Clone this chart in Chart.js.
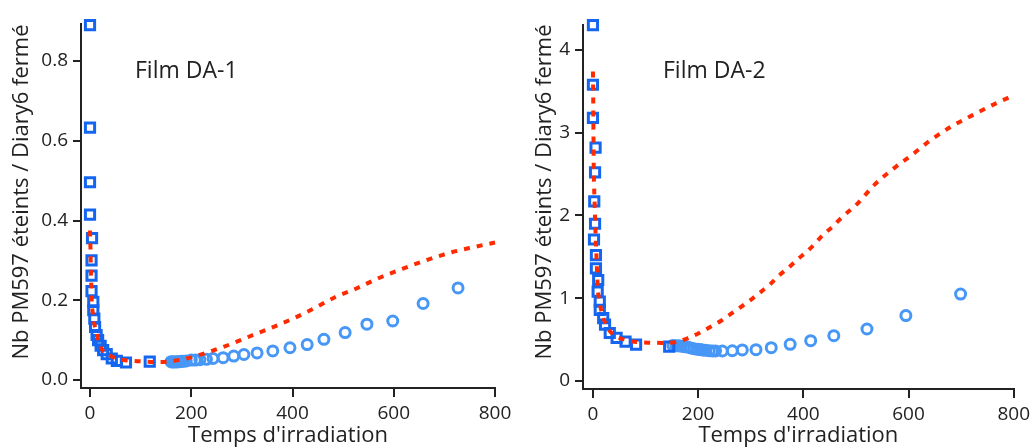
<!DOCTYPE html>
<html>
<head>
<meta charset="utf-8">
<script src="https://cdn.jsdelivr.net/npm/chart.js@4.4.1/dist/chart.umd.min.js"></script>
<style>
  html,body{margin:0;padding:0;background:#fff;}
  #wrap{position:relative;width:1035px;height:448px;overflow:hidden;}
  canvas{position:absolute;top:0;}
</style>
</head>
<body>
<div id="wrap">
  <canvas id="c1" width="520" height="448" style="left:0"></canvas>
  <canvas id="c2" width="515" height="448" style="left:520px"></canvas>
</div>
<script>
// ---------- data ----------
const xTicks = [0, 200, 400, 600, 800];
const yTicks1 = [0, 0.2, 0.4, 0.6, 0.8];
const yTicks2 = [0, 1, 2, 3, 4];
const xTitle = "Temps d'irradiation";
const yTitle = "Nb PM597 éteints / Diary6 fermé";
const label1 = "Film DA-1";
const label2 = "Film DA-2";

// Film DA-1
const squares1X = [0, 0, 0, 0, 4, 3, 3, 3, 6.5, 6.5, 8.5, 10, 13, 16, 21, 26, 33, 43, 53, 71, 118];
const squares1Y = [0.89, 0.633, 0.496, 0.415, 0.356, 0.30, 0.262, 0.223, 0.196, 0.175, 0.154, 0.133, 0.113, 0.10, 0.086, 0.075, 0.065, 0.054, 0.048, 0.044, 0.046];
const circles1X = [160, 163, 166, 170, 173, 177, 180, 184, 190, 200, 208, 217, 230, 243, 263, 284, 304, 330, 361, 395, 429, 462, 504, 547, 598, 658, 727];
const circles1Y = [0.046, 0.045, 0.046, 0.045, 0.046, 0.046, 0.047, 0.047, 0.048, 0.050, 0.050, 0.051, 0.052, 0.054, 0.056, 0.060, 0.064, 0.068, 0.073, 0.081, 0.089, 0.102, 0.119, 0.140, 0.148, 0.192, 0.231];
const fit1X = [0, 1, 2, 3, 6.5, 13, 20, 39, 59, 98, 138, 190, 236, 282, 328, 352, 401, 440, 483, 525, 571, 617, 663, 716, 760, 800];
const fit1Y = [0.375, 0.325, 0.26, 0.21, 0.158, 0.117, 0.085, 0.062, 0.052, 0.047, 0.045, 0.054, 0.071, 0.092, 0.116, 0.128, 0.154, 0.178, 0.207, 0.229, 0.256, 0.279, 0.300, 0.321, 0.334, 0.345];

// Film DA-2
const squares2X = [0, 0, 0, 5, 4, 2.5, 4, 2, 5.7, 5.7, 10, 9, 13, 13, 19.5, 23, 32, 45, 62, 82, 145];
const squares2Y = [4.30, 3.58, 3.18, 2.82, 2.52, 2.17, 1.90, 1.71, 1.52, 1.36, 1.22, 1.08, 0.96, 0.86, 0.76, 0.68, 0.58, 0.52, 0.475, 0.44, 0.415];
const circles2X = [152, 158, 163, 168, 174, 180, 186, 192, 199, 204, 208, 214, 221, 227, 233, 246, 265, 284, 310, 339, 375, 414, 458, 521, 595, 699];
const circles2Y = [0.43, 0.425, 0.425, 0.42, 0.415, 0.41, 0.40, 0.39, 0.383, 0.38, 0.375, 0.37, 0.366, 0.362, 0.362, 0.362, 0.365, 0.375, 0.378, 0.403, 0.443, 0.487, 0.548, 0.628, 0.79, 1.05];
const fit2X = [0, 0.5, 1, 1.5, 3, 5, 7, 9, 13, 19, 28, 40, 62, 106, 140, 158, 180, 202, 224, 246, 265, 284, 302, 320, 337, 353, 372, 389, 406, 421, 435, 458, 472, 504, 535, 570, 608, 642, 680, 721, 768, 800];
const fit2Y = [3.74, 3.44, 2.99, 2.59, 2.19, 1.78, 1.46, 1.14, 0.94, 0.78, 0.64, 0.556, 0.495, 0.463, 0.46, 0.47, 0.516, 0.58, 0.656, 0.737, 0.822, 0.906, 0.99, 1.08, 1.17, 1.27, 1.37, 1.47, 1.56, 1.65, 1.75, 1.88, 1.97, 2.15, 2.37, 2.56, 2.74, 2.91, 3.07, 3.21, 3.36, 3.45];

// ---------- helpers ----------
const FONT = "'Open Sans', 'DejaVu Sans', sans-serif";
const INK = '#222';
const SQ_COLOR = '#1466f0';
const CI_COLOR = '#4797f7';
const FIT_COLOR = '#ff2a00';

function pts(xs, ys) { return xs.map((x, i) => ({x: x, y: ys[i]})); }

function textPlugin(label, labelX, labelY, yTitleX, yTitleY) {
  return {
    id: 'texts',
    afterDraw(chart) {
      const ctx = chart.ctx;
      ctx.save();
      ctx.fillStyle = INK;
      ctx.font = "23px " + FONT;
      ctx.textBaseline = 'middle';
      ctx.textAlign = 'left';
      ctx.fillText(label, labelX, labelY);
      ctx.translate(yTitleX, yTitleY);
      ctx.rotate(-Math.PI / 2);
      ctx.textAlign = 'center';
      ctx.font = "22px " + FONT;
      ctx.fillText(yTitle, 0, 0);
      ctx.restore();
    }
  };
}

function makeChart(id, o) {
  return new Chart(document.getElementById(id), {
    type: 'scatter',
    data: {
      datasets: [
        {
          label: 'fit', data: pts(o.fitX, o.fitY), showLine: true,
          borderColor: FIT_COLOR, borderWidth: 4, borderDash: [6, 7],
          pointRadius: 0, cubicInterpolationMode: 'monotone', clip: false, order: 0
        },
        {
          label: 'squares', data: pts(o.sqX, o.sqY), pointStyle: 'rect',
          pointRadius: 6.5, borderWidth: 3, borderColor: SQ_COLOR,
          backgroundColor: 'rgba(0,0,0,0)', clip: false, order: 1
        },
        {
          label: 'circles', data: pts(o.ciX, o.ciY), pointStyle: 'circle',
          pointRadius: 5, borderWidth: 3, borderColor: CI_COLOR,
          backgroundColor: 'rgba(0,0,0,0)', clip: false, order: 2
        }
      ]
    },
    options: {
      responsive: false, animation: false,
      layout: { autoPadding: false, padding: o.pad },
      plugins: { legend: {display: false}, tooltip: {enabled: false} },
      scales: {
        x: {
          type: 'linear', min: o.xMin, max: 800,
          afterBuildTicks(s) { s.ticks = xTicks.map(v => ({value: v})); },
          afterFit(s) { s.height = o.xH; },
          border: {display: true, color: INK, width: 2},
          grid: {drawOnChartArea: false, drawTicks: true, tickLength: 9, color: INK, lineWidth: 2},
          ticks: {font: {family: FONT, size: 19}, color: INK, padding: 5, maxRotation: 0,
                  callback: v => String(v)},
          title: {display: true, text: xTitle, color: INK, font: {family: FONT, size: 22}, padding: {top: 0, bottom: -1}}
        },
        y: {
          type: 'linear', min: o.yMin, max: o.yMax,
          afterBuildTicks(s) { s.ticks = o.yTicks.map(v => ({value: v})); },
          afterFit(s) { s.width = o.yW; },
          border: {display: true, color: INK, width: 2},
          grid: {drawOnChartArea: false, drawTicks: true, tickLength: 8, color: INK, lineWidth: 2},
          ticks: {font: {family: FONT, size: 19}, color: INK, padding: 5,
                  callback: v => o.fmt(v)},
          title: {display: false}
        }
      }
    },
    plugins: [textPlugin(o.label, o.labelX, o.labelY, o.yTitleX, o.yTitleY)]
  });
}

makeChart('c1', {
  fitX: fit1X, fitY: fit1Y, sqX: squares1X, sqY: squares1Y, ciX: circles1X, ciY: circles1Y,
  pad: {left: 0, top: 24, right: 25, bottom: 0}, xMin: -17.8, yMin: -0.02, yMax: 0.893,
  yTicks: yTicks1, yW: 81, xH: 60, fmt: v => v.toFixed(1),
  label: label1, labelX: 135, labelY: 71, yTitleX: 22, yTitleY: 192
});

makeChart('c2', {
  fitX: fit2X, fitY: fit2Y, sqX: squares2X, sqY: squares2Y, ciX: circles2X, ciY: circles2Y,
  pad: {left: 0, top: 25, right: 18, bottom: 0}, xMin: -18.9, yMin: -0.097, yMax: 4.302,
  yTicks: yTicks2, yW: 63, xH: 59, fmt: v => String(v),
  label: label2, labelX: 143, labelY: 71, yTitleX: 25, yTitleY: 192
});
</script>
</body>
</html>
